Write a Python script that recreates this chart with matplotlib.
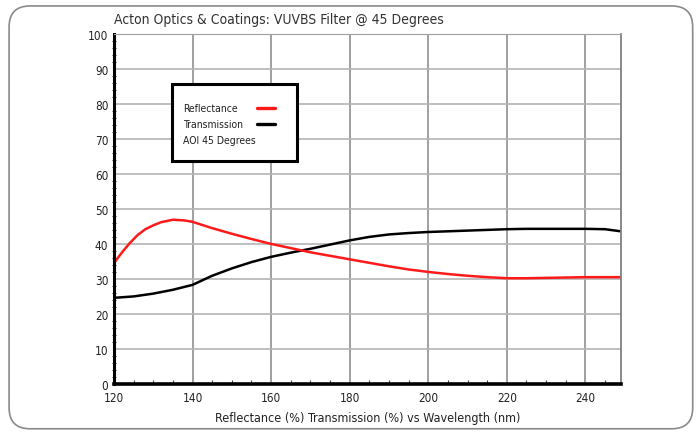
import matplotlib.pyplot as plt
import numpy as np
from matplotlib.patches import FancyBboxPatch, Rectangle

# значения
refl_wl = [120, 122, 124, 126, 128, 130, 132, 135, 138, 140, 145, 150, 155, 160, 165, 170,
           175, 180, 185, 190, 195, 200, 205, 210, 215, 220, 225, 230, 235, 240, 245, 249]
refl = [34.5, 37.5, 40.2, 42.5, 44.2, 45.3, 46.2, 46.9, 46.7, 46.3, 44.5, 42.9, 41.4, 40.0, 38.8, 37.6,
        36.6, 35.6, 34.6, 33.6, 32.7, 32.0, 31.4, 30.9, 30.5, 30.2, 30.2, 30.3, 30.4, 30.5, 30.5, 30.5]

trans_wl = [120, 125, 130, 135, 140, 145, 150, 155, 160, 165, 170, 175, 180, 185, 190, 195,
            200, 205, 210, 215, 220, 225, 230, 235, 240, 245, 247, 249]
trans = [24.6, 25.0, 25.8, 26.9, 28.3, 30.9, 33.0, 34.8, 36.3, 37.5, 38.6, 39.8, 41.0, 42.0, 42.7, 43.1,
         43.4, 43.6, 43.8, 44.0, 44.2, 44.3, 44.3, 44.3, 44.3, 44.2, 43.9, 43.6]

xticks = [120, 140, 160, 180, 200, 220, 240]
yticks = list(range(0, 101, 10))
legend_labels = ['Reflectance', 'Transmission', 'AOI 45 Degrees']
legend_colors = ['#ff1a1a', 'black', None]

plt.rcParams['font.family'] = ['DejaVu Sans']
plt.rcParams['font.stretch'] = 'condensed'

fig = plt.figure(figsize=(6.99, 4.35), dpi=100)
ax = fig.add_axes([0.163, 0.115, 0.725, 0.805])

# рамка вокруг всего рисунка
border = FancyBboxPatch((0.013, 0.012), 0.978, 0.972, boxstyle='round,pad=0,rounding_size=0.03',
                        transform=fig.transFigure, fill=False, edgecolor='#8a8a8a', linewidth=1.2,
                        mutation_aspect=699/435)
fig.patches.append(border)

ax.plot(trans_wl, trans, color='black', linewidth=1.8)
ax.plot(refl_wl, refl, color='#ff1a1a', linewidth=1.8)

ax.set_xlim(120, 249)
ax.set_ylim(0, 100)
ax.set_xticks(xticks)
ax.set_yticks(yticks)
ax.set_xticks(np.arange(120, 250, 5), minor=True)
ax.set_yticks(np.arange(0, 101, 2), minor=True)
ax.tick_params(axis='x', which='major', labelsize=8.5, length=0, pad=5, labelcolor='#222222')
ax.tick_params(axis='y', which='major', labelsize=8.5, length=0, pad=4, labelcolor='#222222')
ax.tick_params(axis='x', which='minor', direction='in', length=3, width=0.8, colors='#444444')
ax.tick_params(axis='y', which='minor', direction='inout', length=3, width=0.8, colors='#444444')

ax.grid(True, axis='y', color='#b4b4b4', linewidth=1.2)
ax.grid(True, axis='x', color='#909090', linewidth=1.2)
ax.set_axisbelow(True)

ax.spines['left'].set_linewidth(2.2)
ax.spines['bottom'].set_linewidth(2.6)
ax.spines['top'].set_color('#a0a0a0')
ax.spines['right'].set_color('#808080')
ax.spines['right'].set_linewidth(1.3)

ax.set_title('Acton Optics & Coatings: VUVBS Filter @ 45 Degrees', loc='left', fontsize=10,
             color='#333333', pad=8)
ax.set_xlabel('Reflectance (%) Transmission (%) vs Wavelength (nm)', fontsize=9,
              color='#222222', labelpad=5)

# легенда в рамке, нарисована вручную (текст слева, линия справа)
ax.add_patch(Rectangle((0.114, 0.637), 0.247, 0.22, transform=ax.transAxes, facecolor='white',
                       edgecolor='black', linewidth=2.2, zorder=5))
for i, (lab, col) in enumerate(zip(legend_labels, legend_colors)):
    yy = 0.787 - i * 0.045
    ax.text(0.136, yy, lab, transform=ax.transAxes, fontsize=7.5, color='#222222',
            va='center', ha='left', zorder=6)
    if col is not None:
        ax.plot([0.282, 0.318], [yy, yy], transform=ax.transAxes, color=col,
                linewidth=2.4, zorder=6, solid_capstyle='round')

fig.savefig('out.png', dpi=100)
